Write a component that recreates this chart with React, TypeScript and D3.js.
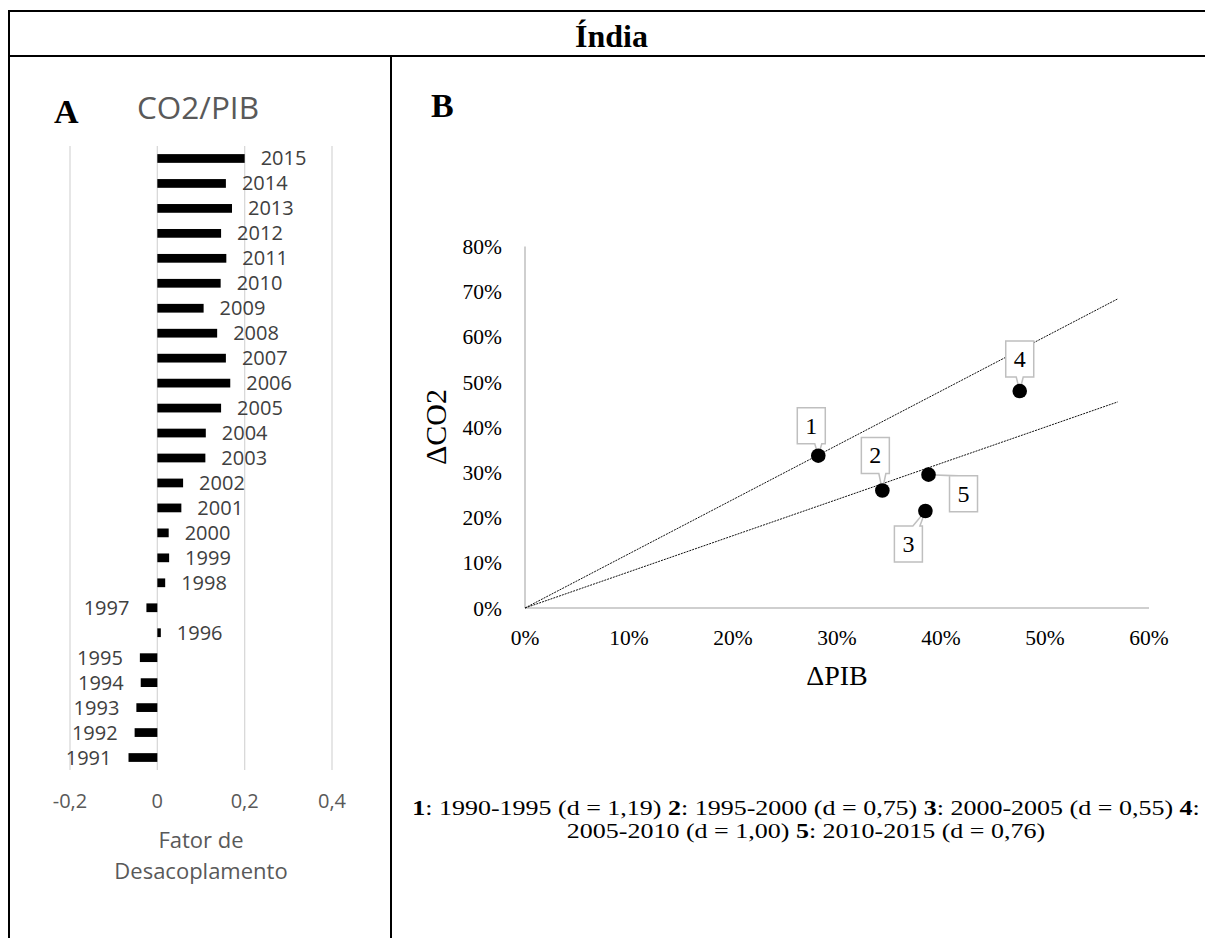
import React from "react";
import * as d3 from "d3";

// ---------- Data ----------
const years = [1991, 1992, 1993, 1994, 1995, 1996, 1997, 1998, 1999, 2000, 2001, 2002, 2003, 2004, 2005, 2006, 2007, 2008, 2009, 2010, 2011, 2012, 2013, 2014, 2015];
const decouplingFactor = [-0.066, -0.052, -0.048, -0.038, -0.040, 0.008, -0.025, 0.018, 0.027, 0.026, 0.055, 0.059, 0.110, 0.111, 0.146, 0.167, 0.157, 0.137, 0.106, 0.145, 0.158, 0.146, 0.171, 0.157, 0.200];
const factorTicks = [-0.2, 0, 0.2, 0.4];

const periodIds = ["1", "2", "3", "4", "5"];
const gdpChange = [0.282, 0.3436, 0.385, 0.4757, 0.388];
const co2Change = [0.337, 0.260, 0.2146, 0.480, 0.295];
const thresholdSlopes = [1.2, 0.8];
const thresholdMaxX = 0.57;
const pctTicksY = [0, 0.1, 0.2, 0.3, 0.4, 0.5, 0.6, 0.7, 0.8];
const pctTicksX = [0, 0.1, 0.2, 0.3, 0.4, 0.5, 0.6];

const legendPeriods = ["1990-1995", "1995-2000", "2000-2005", "2005-2010", "2010-2015"];
const legendD = ["1,19", "0,75", "0,55", "1,00", "0,76"];

// ---------- Layout ----------
const W = 1205;
const H = 938;
const SERIF = "'Liberation Serif', 'Times New Roman', serif";
const SANS = "'Open Sans', 'DejaVu Sans', sans-serif";
const GRAY_TXT = "#595959";
const DARK_TXT = "#404040";

const calloutOffsets: [number, number][] = [[-7, -30], [-7, -35], [-17, 33], [0, -32], [35, 19]];
const BOX_W = 28;
const BOX_H = 36;

function calloutPath(bx: number, by: number, px: number, py: number) {
  const L = bx - BOX_W / 2, R = bx + BOX_W / 2, T = by - BOX_H / 2, B = by + BOX_H / 2;
  const clamp = (v: number, a: number, b: number) => Math.max(a, Math.min(b, v));
  if (py > B) {
    const c = clamp(px, L + 6, R - 6);
    return `M${L},${T}H${R}V${B}H${c + 3.5}L${px},${py}L${c - 3.5},${B}H${L}Z`;
  }
  if (py < T) {
    const c = clamp(px, L + 6, R - 6);
    return `M${L},${T}H${c - 3.5}L${px},${py}L${c + 3.5},${T}H${R}V${B}H${L}Z`;
  }
  if (px < L) {
    const c = clamp(py, T + 4, B - 4);
    return `M${L},${T}H${R}V${B}H${L}V${c + 3.5}L${px},${py}L${L},${c - 3.5}Z`;
  }
  const c = clamp(py, T + 4, B - 4);
  return `M${L},${T}H${R}V${c - 3.5}L${px},${py}L${R},${c + 3.5}V${B}H${L}Z`;
}

export default function App() {
  // Panel A scales
  const xA = d3.scaleLinear().domain([-0.2, 0.4]).range([70, 332]);
  const yA = d3
    .scaleBand<number>()
    .domain([...years].reverse())
    .range([146, 770])
    .paddingInner(0.65)
    .paddingOuter(0.325);
  const fmtComma = (v: number) =>
    v === 0 ? "0" : d3.format(".1f")(v).replace("−", "-").replace(".", ",");

  // Panel B scales
  const xB = d3.scaleLinear().domain([0, 0.6]).range([525, 1149]);
  const yB = d3.scaleLinear().domain([0, 0.8]).range([608, 246.4]);
  const fmtPct = d3.format(".0%");
  const lineGen = d3
    .line<[number, number]>()
    .x((d) => xB(d[0]))
    .y((d) => yB(d[1]));

  return (
    <svg
      width={W}
      height={H}
      style={{ position: "absolute", left: 0, top: 0, background: "#fff" }}
    >
      <rect x={0} y={0} width={W} height={H} fill="#fff" />
      {/* Table frame */}
      <line x1={8} x2={W} y1={11} y2={11} stroke="#000" strokeWidth={2} />
      <line x1={8} x2={W} y1={56} y2={56} stroke="#000" strokeWidth={2} />
      <line x1={9} x2={9} y1={10} y2={H} stroke="#000" strokeWidth={2} />
      <line x1={391} x2={391} y1={56} y2={H} stroke="#000" strokeWidth={2} />
      <text x={611.5} y={47} textAnchor="middle" fontFamily={SERIF} fontWeight="bold" fontSize={32}>
        Índia
      </text>

      {/* Panel A */}
      <text x={54} y={123} fontFamily={SERIF} fontWeight="bold" fontSize={34}>A</text>
      <text x={137} y={119} fontFamily={SANS} fontSize={31.5} fill={GRAY_TXT}>CO2/PIB</text>
      {factorTicks.map((t) => (
        <g key={t}>
          <line x1={xA(t)} x2={xA(t)} y1={146} y2={770} stroke="#d9d9d9" strokeWidth={1.3} />
          <text x={xA(t)} y={808} textAnchor="middle" fontFamily={SANS} fontSize={20} fill={GRAY_TXT}>
            {fmtComma(t)}
          </text>
        </g>
      ))}
      {years.map((yr, i) => {
        const v = decouplingFactor[i];
        const y0 = yA(yr)!;
        const bw = yA.bandwidth();
        const x0 = xA(Math.min(0, v));
        const x1 = xA(Math.max(0, v));
        const cy = y0 + bw / 2;
        return (
          <g key={yr}>
            <rect x={x0} y={y0} width={Math.max(x1 - x0, 1)} height={bw} fill="#000" />
            <text
              x={v >= 0 ? x1 + 16 : x0 - 17}
              y={cy + 7}
              textAnchor={v >= 0 ? "start" : "end"}
              fontFamily={SANS}
              fontSize={20}
              fill={DARK_TXT}
            >
              {yr}
            </text>
          </g>
        );
      })}
      <text x={201} y={848} textAnchor="middle" fontFamily={SANS} fontSize={22} fill={GRAY_TXT}>Fator de</text>
      <text x={201} y={879} textAnchor="middle" fontFamily={SANS} fontSize={22} fill={GRAY_TXT}>Desacoplamento</text>

      {/* Panel B */}
      <text x={431} y={117} fontFamily={SERIF} fontWeight="bold" fontSize={34}>B</text>
      <line x1={xB(0)} x2={xB(0)} y1={yB(0.8)} y2={yB(0)} stroke="#bfbfbf" strokeWidth={1.5} />
      <line x1={xB(0)} x2={xB(0.6)} y1={yB(0)} y2={yB(0)} stroke="#bfbfbf" strokeWidth={1.5} />
      {pctTicksY.map((t) => (
        <text key={"y" + t} x={502} y={yB(t) + 7.5} textAnchor="end" fontFamily={SERIF} fontSize={21.5} fill="#000">
          {fmtPct(t)}
        </text>
      ))}
      {pctTicksX.map((t) => (
        <text key={"x" + t} x={xB(t)} y={644.5} textAnchor="middle" fontFamily={SERIF} fontSize={21.5} fill="#000">
          {fmtPct(t)}
        </text>
      ))}
      <text x={837} y={685} textAnchor="middle" fontFamily={SERIF} fontSize={28}>ΔPIB</text>
      <text
        transform={`translate(446,427) rotate(-90)`}
        textAnchor="middle"
        fontFamily={SERIF}
        fontSize={30}
      >
        ΔCO2
      </text>
      {thresholdSlopes.map((s) => (
        <path
          key={s}
          d={lineGen([[0, 0], [thresholdMaxX, s * thresholdMaxX]]) || ""}
          fill="none"
          stroke="#111"
          strokeWidth={1}
          strokeDasharray="2 1"
        />
      ))}
      {periodIds.map((id, i) => {
        const px = xB(gdpChange[i]);
        const py = yB(co2Change[i]);
        const bx = px + calloutOffsets[i][0];
        const by = py + calloutOffsets[i][1];
        return (
          <g key={id}>
            <path d={calloutPath(bx, by, px, py)} fill="#fff" stroke="#bfbfbf" strokeWidth={1.5} />
            <text x={bx} y={by + 8} textAnchor="middle" fontFamily={SERIF} fontSize={24}>{id}</text>
          </g>
        );
      })}
      {periodIds.map((id, i) => (
        <circle key={"c" + id} cx={xB(gdpChange[i])} cy={yB(co2Change[i])} r={7.3} fill="#000" />
      ))}

      {/* Legend */}
      <g transform="translate(806,815) scale(1,0.82)">
        <text x={0} y={0} textAnchor="middle" fontFamily={SERIF} fontSize={26}>
          {[0, 1, 2].map((i) => (
            <React.Fragment key={i}>
              <tspan fontWeight="bold">{periodIds[i]}</tspan>
              <tspan>{`: ${legendPeriods[i]} (d = ${legendD[i]}) `}</tspan>
            </React.Fragment>
          ))}
          <tspan fontWeight="bold">{periodIds[3]}</tspan>
          <tspan>:</tspan>
        </text>
      </g>
      <g transform="translate(806,838) scale(1,0.82)">
        <text x={0} y={0} textAnchor="middle" fontFamily={SERIF} fontSize={26}>
          <tspan>{`${legendPeriods[3]} (d = ${legendD[3]}) `}</tspan>
          <tspan fontWeight="bold">{periodIds[4]}</tspan>
          <tspan>{`: ${legendPeriods[4]} (d = ${legendD[4]})`}</tspan>
        </text>
      </g>
    </svg>
  );
}
